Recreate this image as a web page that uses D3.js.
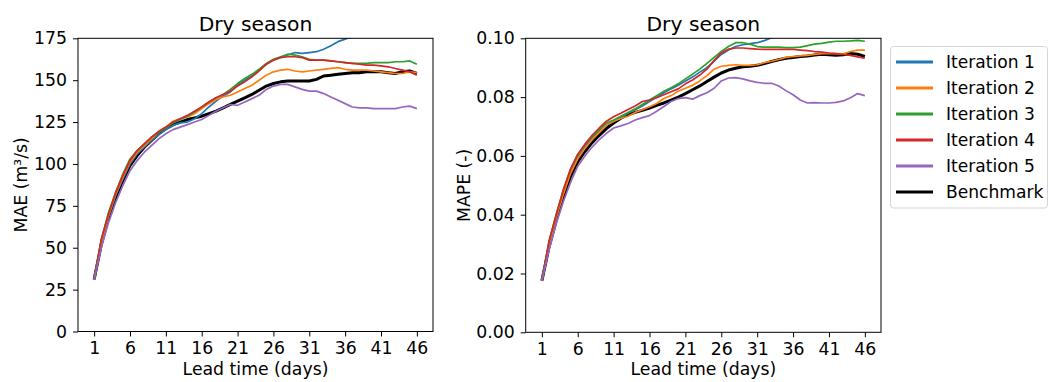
<!DOCTYPE html>
<meta charset="utf-8">
<style>
body { margin: 0; background: #fff; }
text { font-family: "DejaVu Sans", sans-serif; fill: #000; }
.axis text { font-size: 17.3px; }
.label { font-size: 17.3px; }
.title { font-size: 20.3px; }
.legend text { font-size: 17.1px; }
</style>
<svg width="1049" height="382"></svg>
<script src="https://cdn.jsdelivr.net/npm/d3@7/dist/d3.min.js"></script>
<script>

// lead time (days)
var days = [1, 2, 3, 4, 5, 6, 7, 8, 9, 10, 11, 12, 13, 14, 15, 16, 17, 18, 19, 20, 21, 22, 23,
            24, 25, 26, 27, 28, 29, 30, 31, 32, 33, 34, 35, 36, 37, 38, 39, 40, 41, 42, 43, 44, 45, 46];
var xTicks = [1, 6, 11, 16, 21, 26, 31, 36, 41, 46];
var maeTicks = [0, 25, 50, 75, 100, 125, 150, 175];
var mapeTicks = [0, 0.02, 0.04, 0.06, 0.08, 0.10];

var seriesNames = ["Iteration 1", "Iteration 2", "Iteration 3", "Iteration 4", "Iteration 5", "Benchmark"];
var seriesColors = ["#1f77b4", "#ff7f0e", "#2ca02c", "#d62728", "#9467bd", "#000000"];

// MAE (m3/s), dry season
var maeIter1 = [31, 53, 69, 81, 91, 100, 106, 110, 114, 117.5, 120.5, 123, 124.5, 125, 127, 130, 134, 137.5, 140.5, 143,
                147, 150, 152.5, 156, 159.5, 162, 163.5, 165, 166.5, 166, 166.5, 167, 168.5, 170.5, 173, 174.5, 176, 177,
                178, 179, 180, 181, 182, 183, 184, 185];
var maeIter2 = [31, 53, 69, 82, 92, 101, 107, 111, 115, 119, 122, 125.5, 127, 128, 130, 133, 136, 138.5, 140, 141,
                143, 145, 147, 150, 153, 155, 156, 156.5, 155.5, 155, 155.5, 156, 156.5, 157, 157.5, 156.5, 156, 156,
                156, 155.5, 155, 154.5, 154, 154, 155, 154.5];
var maeIter3 = [31, 55, 71, 83, 94, 103, 108, 112, 116, 119, 121.5, 124.5, 126.5, 128.5, 131, 134, 137, 139.5, 141.5, 144.5,
                148, 151, 153.5, 156.5, 160, 162.5, 164, 165.5, 165, 164, 162.5, 162, 162, 161.5, 161, 160.5, 160, 160,
                160, 160.5, 160.5, 160.5, 161, 161, 161.5, 159.5];
var maeIter4 = [31, 55, 70, 83, 93, 102, 108, 112, 116, 119.5, 122, 125, 127, 129, 131.5, 134, 137, 139.5, 141.5, 143.5,
                146.5, 149, 152, 155.5, 159.5, 162, 163.5, 164, 164, 163.5, 162, 162, 162, 161.5, 161, 160.5, 160, 159.5,
                159, 159, 158.5, 158, 157, 156, 155, 153];
var maeIter5 = [31, 50, 65, 77, 87, 96, 102, 107, 111, 115, 118, 120.5, 122, 123.5, 125, 126.5, 129, 131.5, 133.5, 135.5,
                135, 137, 139, 141, 144.5, 146.5, 147.5, 147.5, 146, 144.5, 143.5, 143.5, 142, 140, 138, 136, 134, 133.5,
                133.5, 133, 133, 133, 133, 134, 134.5, 133];
var maeBench = [31, 52, 68, 80, 90, 99, 105, 110, 114, 118, 121, 123.5, 125, 126.5, 127.5, 128.5, 130, 131.5, 133.5, 135.5,
                137.5, 139.5, 141.5, 144, 146.5, 148, 149, 149.5, 149.5, 149.5, 149.5, 150.5, 152.5, 153, 153.5, 154, 154.5,
                154.5, 155, 155, 155, 154.5, 154, 155, 155.5, 154];

// MAPE (-), dry season
var mapeIter1 = [0.0175, 0.030, 0.0395, 0.0475, 0.0545, 0.0595, 0.063, 0.066, 0.0685, 0.0705, 0.0717, 0.073, 0.0745, 0.0757,
                 0.077, 0.0785, 0.080, 0.0815, 0.0828, 0.0840, 0.0855, 0.0868, 0.0885, 0.090, 0.0922, 0.0945, 0.096, 0.0972,
                 0.0978, 0.0982, 0.0985, 0.0992, 0.1002, 0.1012, 0.102, 0.103, 0.104, 0.105, 0.106, 0.107, 0.108, 0.109,
                 0.110, 0.111, 0.112, 0.113];
var mapeIter2 = [0.0175, 0.0295, 0.039, 0.047, 0.054, 0.059, 0.0625, 0.0655, 0.068, 0.0705, 0.0718, 0.0727, 0.0735, 0.0748,
                 0.0757, 0.0767, 0.0778, 0.0795, 0.0805, 0.082, 0.083, 0.084, 0.0855, 0.0873, 0.0895, 0.0905, 0.0908, 0.091,
                 0.0908, 0.0908, 0.091, 0.0917, 0.0922, 0.0928, 0.0935, 0.0938, 0.094, 0.0942, 0.0945, 0.0948, 0.0948, 0.0948,
                 0.0947, 0.0955, 0.096, 0.096];
var mapeIter3 = [0.0175, 0.031, 0.040, 0.0485, 0.0555, 0.0605, 0.0638, 0.0665, 0.069, 0.0712, 0.0722, 0.0735, 0.0748, 0.076,
                 0.0775, 0.079, 0.0805, 0.082, 0.0832, 0.0845, 0.0862, 0.0878, 0.0895, 0.0915, 0.0935, 0.0955, 0.0972, 0.0985,
                 0.0985, 0.098, 0.0972, 0.097, 0.097, 0.097, 0.0968, 0.0968, 0.097, 0.0975, 0.098, 0.0983, 0.0987, 0.099,
                 0.099, 0.0991, 0.0993, 0.099];
var mapeIter4 = [0.0175, 0.031, 0.040, 0.0485, 0.0555, 0.0605, 0.064, 0.067, 0.0695, 0.0718, 0.0733, 0.0745, 0.0758, 0.077,
                 0.0785, 0.079, 0.0798, 0.0808, 0.0818, 0.0828, 0.0845, 0.0858, 0.0875, 0.0895, 0.0925, 0.095, 0.0963, 0.0967,
                 0.0967, 0.0965, 0.0963, 0.0962, 0.0962, 0.0962, 0.0962, 0.0962, 0.096, 0.0958, 0.0955, 0.0953, 0.095, 0.0948,
                 0.0945, 0.0942, 0.0937, 0.0932];
var mapeIter5 = [0.0175, 0.028, 0.037, 0.0445, 0.051, 0.0565, 0.060, 0.063, 0.0655, 0.0677, 0.0695, 0.0702, 0.071, 0.0722,
                 0.073, 0.0737, 0.0752, 0.0768, 0.0785, 0.0795, 0.0798, 0.0793, 0.0805, 0.0815, 0.083, 0.0855, 0.0865, 0.0866,
                 0.0862, 0.0855, 0.085, 0.0847, 0.0847, 0.0838, 0.0822, 0.0808, 0.079, 0.078, 0.0781, 0.078, 0.078, 0.0782,
                 0.0787, 0.0798, 0.0812, 0.0805];
var mapeBench = [0.0175, 0.029, 0.038, 0.046, 0.053, 0.058, 0.0615, 0.0645, 0.067, 0.0693, 0.0712, 0.0728, 0.074, 0.0748,
                 0.0755, 0.0763, 0.0772, 0.078, 0.079, 0.080, 0.0812, 0.0825, 0.0838, 0.0853, 0.0868, 0.0882, 0.0892, 0.0898,
                 0.0903, 0.0905, 0.0908, 0.0914, 0.0921, 0.0927, 0.0932, 0.0935, 0.0938, 0.094, 0.0943, 0.0946, 0.0944, 0.0942,
                 0.0944, 0.0948, 0.0946, 0.0938];

var svg = d3.select("svg");

function panel(id, box, values, yDomain, yTicks, yFormat, yLabel, labelX) {
    var x = d3.scaleLinear().domain([-1.25, 48.25]).range([box.left, box.right]);
    var y = d3.scaleLinear().domain(yDomain).range([box.bottom, box.top]);

    svg.append("clipPath").attr("id", id)
        .append("rect")
        .attr("x", box.left).attr("y", box.top)
        .attr("width", box.right - box.left).attr("height", box.bottom - box.top);

    var line = d3.line()
        .x(function(d, i) { return x(days[i]); })
        .y(function(d) { return y(d); });

    var lines = svg.append("g").attr("clip-path", "url(#" + id + ")");

    // benchmark underneath, iterations over it
    var order = [5, 0, 1, 2, 3, 4];
    order.forEach(function(k) {
        lines.append("path")
            .datum(values[k])
            .attr("fill", "none")
            .attr("stroke", seriesColors[k])
            .attr("stroke-width", k == 5 ? 3 : 1.7)
            .attr("stroke-linejoin", "round")
            .attr("d", line);
    });

    svg.append("g")
        .attr("class", "axis")
        .attr("transform", "translate(0," + box.bottom + ")")
        .call(d3.axisBottom(x).tickValues(xTicks).tickSize(5).tickPadding(5.5).tickFormat(d3.format("d")))
        .call(function(g) { g.select(".domain").remove(); });

    svg.append("g")
        .attr("class", "axis")
        .attr("transform", "translate(" + box.left + ",0)")
        .call(d3.axisLeft(y).tickValues(yTicks).tickSize(5).tickPadding(6).tickFormat(yFormat))
        .call(function(g) { g.select(".domain").remove(); });

    svg.append("rect")
        .attr("x", box.left).attr("y", box.top)
        .attr("width", box.right - box.left).attr("height", box.bottom - box.top)
        .attr("fill", "none").attr("stroke", "#000").attr("stroke-width", 1);

    svg.append("text")
        .attr("class", "title")
        .attr("x", (box.left + box.right) / 2)
        .attr("y", 30.5)
        .attr("text-anchor", "middle")
        .text("Dry season");

    svg.append("text")
        .attr("class", "label")
        .attr("x", (box.left + box.right) / 2)
        .attr("y", 375)
        .attr("text-anchor", "middle")
        .text("Lead time (days)");

    svg.append("text")
        .attr("class", "label")
        .attr("transform", "translate(" + labelX + "," + (box.top + box.bottom) / 2 + ") rotate(-90)")
        .attr("text-anchor", "middle")
        .text(yLabel);
}

panel("clipMae", {left: 78, right: 433, top: 38.3, bottom: 331.5},
      [maeIter1, maeIter2, maeIter3, maeIter4, maeIter5, maeBench],
      [0, 175], maeTicks, d3.format("d"), "MAE (m³/s)", 27);

panel("clipMape", {left: 525.7, right: 881, top: 38.3, bottom: 332.3},
      [mapeIter1, mapeIter2, mapeIter3, mapeIter4, mapeIter5, mapeBench],
      [0, 0.10], mapeTicks, d3.format(".2f"), "MAPE (-)", 470);

// legend
var legend = svg.append("g").attr("class", "legend");

legend.append("rect")
    .attr("x", 890.5).attr("y", 46.5)
    .attr("width", 157).attr("height", 161.5)
    .attr("rx", 3)
    .attr("fill", "#fff").attr("fill-opacity", 0.8)
    .attr("stroke", "#d6d6d6").attr("stroke-width", 1);

var entry = legend.selectAll(".entry")
    .data(seriesNames)
    .enter().append("g")
    .attr("class", "entry")
    .attr("transform", function(d, i) { return "translate(0," + (62 + i * 26) + ")"; });

entry.append("line")
    .attr("x1", 896).attr("x2", 933)
    .attr("stroke", function(d, i) { return seriesColors[i]; })
    .attr("stroke-width", 3);

entry.append("text")
    .attr("x", 946)
    .attr("dy", "0.35em")
    .text(function(d) { return d; });

</script>
